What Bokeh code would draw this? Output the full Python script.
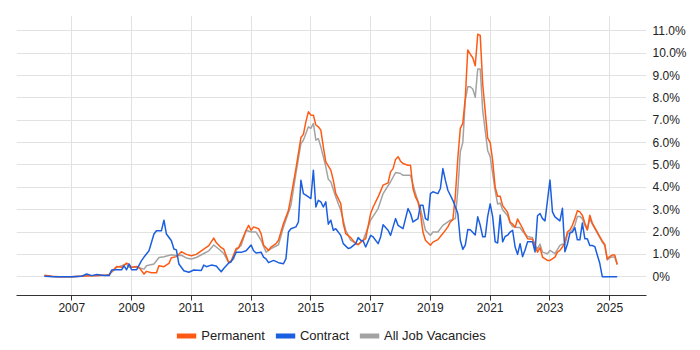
from bokeh.plotting import figure
from bokeh.layouts import column
from bokeh.models import Range1d, FixedTicker, Legend, LegendItem, ColumnDataSource
from bokeh.embed import file_html
from bokeh.resources import INLINE

# ---------------- data (share of job ads, %) ----------------
perm_months = ["2006-02","2006-05","2006-08","2007-01","2007-06","2007-12","2008-03","2008-04","2008-07","2008-09","2008-11","2008-12","2009-01","2009-03","2009-04","2009-06","2009-07","2009-09","2009-11","2009-12","2010-02","2010-04","2010-05","2010-07","2010-09","2010-11","2011-01","2011-03","2011-05","2011-07","2011-08","2011-10","2011-11","2012-01","2012-02","2012-04","2012-05","2012-07","2012-08","2012-09","2012-11","2012-12","2013-01","2013-02","2013-04","2013-05","2013-06","2013-08","2013-09","2013-11","2013-12","2014-02","2014-04","2014-05","2014-07","2014-09","2014-10","2014-11","2014-12","2015-01","2015-02","2015-03","2015-04","2015-05","2015-06","2015-07","2015-09","2015-10","2015-11","2016-01","2016-02","2016-03","2016-05","2016-07","2016-08","2016-09","2016-11","2017-01","2017-02","2017-04","2017-06","2017-08","2017-09","2017-10","2017-11","2017-12","2018-01","2018-02","2018-04","2018-05","2018-06","2018-07","2018-08","2018-09","2018-10","2018-11","2019-01","2019-02","2019-04","2019-06","2019-08","2019-09","2019-10","2019-11","2019-12","2020-01","2020-02","2020-03","2020-04","2020-05","2020-06","2020-07","2020-08","2020-09","2020-10","2020-12","2021-01","2021-02","2021-03","2021-04","2021-05","2021-06","2021-08","2021-09","2021-10","2021-11","2021-12","2022-02","2022-03","2022-04","2022-06","2022-07","2022-08","2022-09","2022-10","2022-12","2023-01","2023-03","2023-04","2023-05","2023-06","2023-07","2023-08","2023-09","2023-10","2023-11","2023-12","2024-01","2024-02","2024-03","2024-04","2024-05","2024-06","2024-07","2024-08","2024-09","2024-10","2024-11","2024-12","2025-01","2025-02","2025-03","2025-04"]
perm_values = [0.07,0.02,0.00,0.00,0.03,0.05,0.08,0.10,0.46,0.42,0.61,0.55,0.42,0.46,0.42,0.12,0.24,0.18,0.18,0.49,0.45,0.60,0.85,0.90,1.12,1.00,0.94,1.00,1.16,1.31,1.39,1.73,1.53,1.30,1.24,0.64,0.70,1.26,1.30,1.55,2.08,2.30,2.08,2.23,2.15,1.93,1.41,1.18,1.33,1.48,1.63,2.38,2.97,3.57,4.84,6.23,6.37,6.94,7.38,7.23,7.23,6.79,6.71,6.56,5.81,5.14,4.77,4.32,3.72,3.27,2.38,1.93,1.75,1.48,1.43,1.55,1.70,2.83,3.12,3.57,4.10,4.20,4.69,4.84,5.25,5.37,5.17,5.07,4.99,4.99,3.95,3.57,3.35,2.83,2.00,1.63,1.41,1.55,1.66,1.93,2.23,2.45,2.55,3.60,5.30,6.64,6.86,8.00,10.15,9.96,9.80,9.44,10.85,10.80,8.60,6.20,6.00,5.19,4.00,3.60,3.60,3.18,2.88,2.44,2.36,2.21,2.58,2.17,1.92,1.70,1.68,1.40,1.10,1.30,0.88,0.73,0.73,0.88,1.10,1.18,1.33,1.53,2.00,2.10,2.30,2.60,2.95,2.90,2.75,2.40,2.10,2.75,2.40,2.20,2.00,1.80,1.60,1.45,0.80,0.90,0.97,0.97,0.55]

contract_months = ["2006-02","2006-06","2007-01","2007-05","2007-07","2007-09","2007-11","2008-02","2008-04","2008-05","2008-07","2008-09","2008-10","2008-11","2008-12","2009-01","2009-03","2009-05","2009-06","2009-08","2009-10","2009-11","2010-01","2010-02","2010-03","2010-05","2010-06","2010-07","2010-08","2010-10","2010-12","2011-02","2011-05","2011-06","2011-07","2011-09","2011-11","2012-01","2012-02","2012-04","2012-05","2012-07","2012-09","2012-11","2013-01","2013-02","2013-03","2013-05","2013-06","2013-07","2013-08","2013-10","2013-12","2014-02","2014-03","2014-04","2014-05","2014-07","2014-08","2014-09","2014-10","2014-11","2015-01","2015-02","2015-03","2015-04","2015-05","2015-06","2015-07","2015-08","2015-09","2015-10","2015-11","2016-01","2016-02","2016-04","2016-05","2016-07","2016-08","2016-09","2016-10","2016-11","2017-01","2017-02","2017-04","2017-05","2017-06","2017-08","2017-09","2017-11","2017-12","2018-02","2018-04","2018-05","2018-06","2018-08","2018-09","2018-10","2018-11","2018-12","2019-01","2019-02","2019-04","2019-05","2019-06","2019-07","2019-08","2019-10","2019-12","2020-01","2020-02","2020-03","2020-04","2020-05","2020-07","2020-08","2020-09","2020-10","2020-11","2020-12","2021-01","2021-02","2021-03","2021-04","2021-05","2021-06","2021-07","2021-08","2021-09","2021-10","2021-11","2021-12","2022-01","2022-02","2022-03","2022-04","2022-06","2022-07","2022-08","2022-09","2022-10","2022-11","2023-01","2023-02","2023-03","2023-05","2023-06","2023-07","2023-08","2023-09","2023-10","2023-11","2023-12","2024-01","2024-02","2024-03","2024-04","2024-05","2024-06","2024-07","2024-08","2024-09","2024-10","2025-04"]
contract_values = [0.02,0.00,0.00,0.02,0.12,0.05,0.10,0.05,0.05,0.30,0.31,0.31,0.49,0.31,0.57,0.31,0.31,0.72,0.88,1.16,1.91,2.06,2.06,2.53,1.91,1.61,1.24,1.20,0.57,0.27,0.20,0.30,0.28,0.52,0.45,0.52,0.48,0.22,0.37,0.61,0.67,1.09,1.09,1.16,1.42,1.16,1.06,1.10,0.88,0.80,0.63,0.73,0.63,0.58,0.81,2.00,2.15,2.23,2.45,4.32,3.72,3.65,3.50,4.77,3.12,3.42,3.35,3.12,3.35,2.35,2.53,2.08,2.15,1.85,1.48,1.26,1.30,1.48,1.75,1.63,1.60,1.33,1.85,1.78,1.48,1.78,2.33,2.08,1.85,2.60,2.30,2.15,3.05,2.83,2.45,2.60,3.20,3.20,2.60,2.53,3.72,3.80,3.72,3.95,4.84,4.32,3.87,3.42,2.83,1.63,1.23,1.41,2.11,2.10,1.87,2.68,2.30,1.79,1.79,2.70,3.26,2.68,1.56,1.51,2.76,1.56,1.80,1.86,2.00,2.08,1.33,1.00,1.48,0.90,1.20,1.56,1.56,1.11,2.73,2.83,2.60,2.50,4.33,2.90,2.68,2.50,3.06,1.12,1.45,1.95,2.00,2.20,1.65,1.65,2.40,1.70,1.70,1.40,1.40,1.35,0.97,0.60,0.00,0.00]

all_months = ["2006-02","2006-05","2006-08","2007-01","2007-06","2007-12","2008-03","2008-04","2008-07","2008-11","2008-12","2009-03","2009-06","2009-07","2009-10","2009-12","2010-02","2010-05","2010-07","2010-09","2010-11","2011-01","2011-03","2011-06","2011-08","2011-10","2011-12","2012-02","2012-04","2012-06","2012-07","2012-09","2012-11","2013-01","2013-03","2013-05","2013-07","2013-09","2013-12","2014-02","2014-05","2014-07","2014-09","2014-10","2014-12","2015-01","2015-02","2015-03","2015-04","2015-05","2015-07","2015-08","2015-09","2015-11","2016-01","2016-03","2016-05","2016-08","2016-10","2017-01","2017-04","2017-06","2017-09","2017-11","2018-01","2018-02","2018-05","2018-07","2018-09","2018-11","2019-01","2019-02","2019-04","2019-06","2019-09","2019-11","2019-12","2020-01","2020-02","2020-03","2020-04","2020-05","2020-06","2020-07","2020-08","2020-09","2020-10","2020-12","2021-01","2021-03","2021-04","2021-05","2021-06","2021-08","2021-09","2021-10","2021-12","2022-01","2022-02","2022-04","2022-06","2022-07","2022-08","2022-09","2022-10","2022-12","2023-01","2023-03","2023-05","2023-06","2023-07","2023-08","2023-09","2023-10","2023-11","2023-12","2024-01","2024-02","2024-03","2024-04","2024-05","2024-06","2024-07","2024-08","2024-09","2024-10","2024-11","2024-12","2025-01","2025-02","2025-03","2025-04"]
all_values = [0.05,0.01,0.00,0.00,0.03,0.05,0.07,0.10,0.42,0.57,0.42,0.42,0.34,0.49,0.57,0.86,0.89,0.98,0.95,0.96,0.84,0.79,0.86,1.04,1.16,1.42,1.24,1.04,0.64,0.79,1.18,1.41,2.08,2.00,2.00,1.63,1.10,1.26,1.43,2.23,3.20,4.62,5.96,6.11,6.71,6.64,6.86,6.11,6.18,5.81,4.92,4.36,4.25,3.57,2.97,2.08,1.63,1.45,1.63,2.53,3.05,3.72,4.25,4.66,4.62,4.54,4.54,3.72,3.05,2.08,1.85,2.00,2.00,2.30,2.53,2.60,3.87,5.60,6.00,7.90,8.50,8.50,8.40,8.03,9.30,9.30,7.43,5.64,5.37,3.85,3.25,3.30,3.00,2.73,2.40,2.25,2.20,2.20,2.03,1.80,1.75,1.40,1.25,1.46,1.10,1.03,1.18,1.03,1.40,1.46,1.40,1.90,2.00,2.10,2.30,2.70,2.70,2.60,2.30,2.10,2.60,2.35,2.15,1.95,1.75,1.55,1.40,0.75,0.85,0.88,0.88,0.55]

series_names = ["Permanent", "Contract", "All Job Vacancies"]
year_ticks = [2007, 2009, 2011, 2013, 2015, 2017, 2019, 2021, 2023, 2025]
pct_ticks = [0, 1, 2, 3, 4, 5, 6, 7, 8, 9, 10, 11]
pct_labels = ["0%", "1.0%", "2.0%", "3.0%", "4.0%", "5.0%", "6.0%", "7.0%", "8.0%", "9.0%", "10.0%", "11.0%"]

# ---------------- styling ----------------
C_PERM = "#ff5a14"
C_CONT = "#1b5fe0"
C_ALL = "#a3a3a3"
FONT = "Liberation Sans"


def to_year(m):
    y, mo = m.split("-")
    return int(y) + (int(mo) - 1) / 12.0


p = figure(width=700, height=320, output_backend="svg", toolbar_location=None,
           x_range=Range1d(2005.15, 2026.23), y_range=Range1d(-0.84, 11.69),
           y_axis_location="right",
           min_border_left=16, min_border_right=54, min_border_top=15, min_border_bottom=25)
p.outline_line_color = None
p.background_fill_color = "white"

# grids
p.xgrid.ticker = FixedTicker(ticks=year_ticks)
p.ygrid.ticker = FixedTicker(ticks=pct_ticks)
p.xgrid.grid_line_color = "#e2e2e2"
p.ygrid.grid_line_color = "#e2e2e2"

# x axis
xa = p.xaxis[0]
xa.ticker = FixedTicker(ticks=year_ticks)
xa.major_label_overrides = {t: str(t) for t in year_ticks}
xa.axis_line_color = "#333333"
xa.major_tick_line_color = "#333333"
xa.major_tick_out = 5
xa.major_tick_in = 0
xa.minor_tick_line_color = None
xa.major_label_standoff = 2
xa.major_label_text_font = FONT
xa.major_label_text_font_size = "12px"
xa.major_label_text_color = "#222222"

# y axis (right)
ya = p.yaxis[0]
ya.ticker = FixedTicker(ticks=pct_ticks)
ya.major_label_overrides = dict(zip(pct_ticks, pct_labels))
ya.axis_line_color = None
ya.major_tick_line_color = None
ya.minor_tick_line_color = None
ya.major_tick_out = 0
ya.major_tick_in = 0
ya.major_label_standoff = 6
ya.major_label_text_font = FONT
ya.major_label_text_font_size = "12px"
ya.major_label_text_color = "#222222"

# series
src_perm = ColumnDataSource(dict(x=[to_year(m) for m in perm_months], y=perm_values))
src_cont = ColumnDataSource(dict(x=[to_year(m) for m in contract_months], y=contract_values))
src_all = ColumnDataSource(dict(x=[to_year(m) for m in all_months], y=all_values))

p.line("x", "y", source=src_all, line_color=C_ALL, line_width=1.5, line_join="round")
p.line("x", "y", source=src_perm, line_color=C_PERM, line_width=1.5, line_join="round")
p.line("x", "y", source=src_cont, line_color=C_CONT, line_width=1.5, line_join="round")

# ---------------- legend strip ----------------
lp = figure(width=700, height=30, output_backend="svg", toolbar_location=None,
            x_range=Range1d(0, 1), y_range=Range1d(0, 1),
            min_border_left=16, min_border_right=54, min_border_top=0, min_border_bottom=0)
lp.axis.visible = False
lp.grid.visible = False
lp.outline_line_color = None

nan = float("nan")
lg = []
for c in (C_PERM, C_CONT, C_ALL):
    lg.append(lp.line(x=[nan], y=[nan], line_color=c, line_width=5))

legend = Legend(items=[LegendItem(label=n, renderers=[r]) for n, r in zip(series_names, lg)],
                orientation="horizontal", location="center",
                padding=0, margin=0, spacing=10, label_standoff=5,
                glyph_width=20, glyph_height=14, label_height=14,
                border_line_color=None, background_fill_alpha=0,
                label_text_font=FONT, label_text_font_size="13px",
                label_text_color="#222222")
lp.add_layout(legend)

layout = column(p, lp, spacing=0)
open("out.html", "w").write(file_html(layout, INLINE))
